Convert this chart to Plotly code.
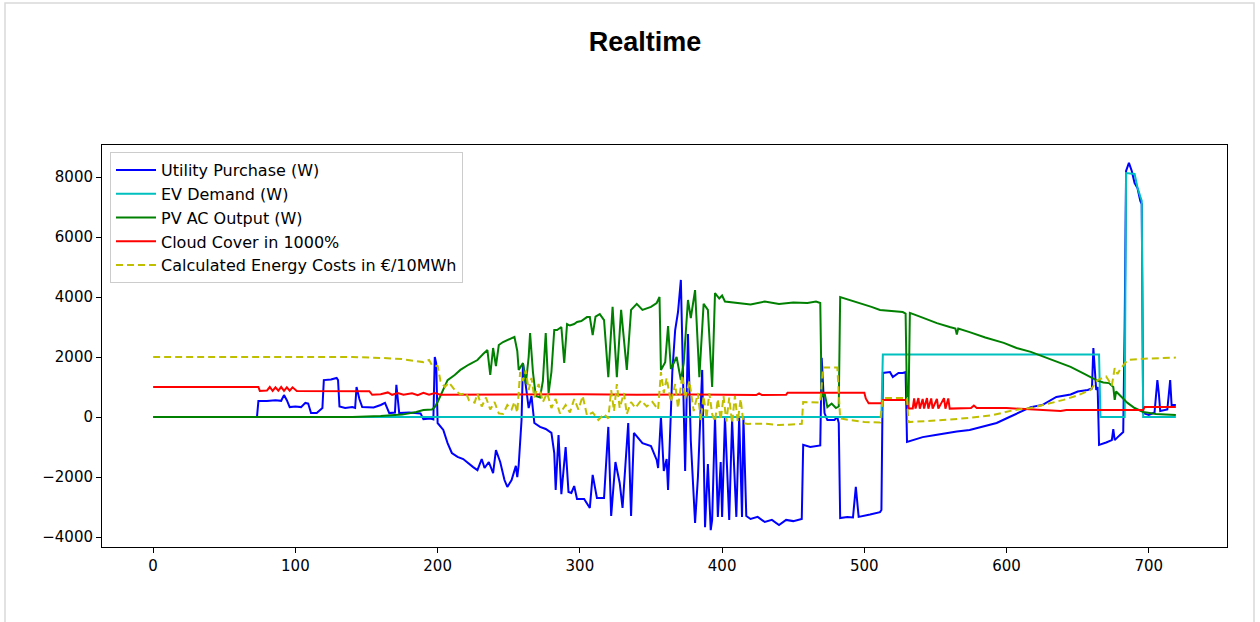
import plotly.graph_objects as go

# ---------------- data ----------------
util_x = [0, 73, 74, 80, 86, 90, 92, 94, 96, 100, 104, 107, 109, 111, 115, 117, 119, 120, 125, 129, 130, 131, 135, 140, 142, 143, 145, 147, 155, 160, 163, 166, 170, 171, 173, 180, 188, 190, 195, 197, 198, 199,
          200, 204, 207, 210, 214, 218, 221, 225, 228, 231, 233, 236, 239, 241, 244, 247, 249, 252, 255, 256, 257, 259, 260, 262, 264, 266, 268, 272, 276, 280, 282, 283, 285, 287, 290, 292, 294, 296, 298,
          303, 307, 309, 312, 317, 320, 322, 325, 328, 330, 334, 336, 338, 341, 344, 350, 354, 355, 357, 359, 361, 362, 365, 367, 369, 371, 374, 376, 378, 381, 383, 386, 388, 390, 392, 393, 395, 397, 399,
          400, 402, 405, 407, 410, 412, 414, 415, 417, 420, 425, 430, 435, 440, 445, 450, 456, 457, 462, 465, 469, 470, 472, 474, 479, 481, 482, 483, 488, 492, 494, 496,
          500, 504, 511, 512, 513, 518, 520, 524, 527, 529, 530, 541, 550, 558, 565, 574, 585, 593,
          602, 612, 617, 625, 635, 645, 650, 657, 660, 661, 662, 663, 664, 665, 670, 674, 675, 676, 679, 682, 683, 684, 686, 688, 690, 692, 694, 695, 696,
          700, 704, 705, 706, 707, 708, 713, 714, 715, 716, 719]
util_y = [0, 0, 530, 530, 560, 540, 730, 560, 330, 350, 330, 470, 450, 130, 130, 200, 300, 1230, 1250, 1300, 1230, 350, 300, 330, 300, 1000, 600, 330, 320, 400, 470, 130, 150, 1070, 130, 150, 120, -70, -50, -80, 2000, 1800,
          -200, -430, -870, -1200, -1330, -1400, -1530, -1670, -1770, -1400, -1700, -1500, -1870, -1100, -1500, -2100, -2330, -2100, -1630, -2000, -1600, -100, 1800, 1000, 300, 700, -200, -330, -400, -530, -1200, -2430, -600, -2570, -1000, -2500, -2530, -2300, -2730,
          -2730, -3030, -1930, -2700, -2700, -330, -3300, -1500, -2200, -3030, -200, -3300, -530, -700, -870, -970, -1430, -1700, 0, -1800, -1400, -2430, 1500, 2900, 3500, 4570, -1800, 2770, -800, -3530, -2000, 1570, -3670, -1570, -3770, -3430, 0, -3330, -1500,
          -3330, 0, -3430, -100, -3330, 0, -3330, 0, -3300, -3400, -3330, -3500, -3430, -3600, -3430, -3470, -3400, -930, -1000, -980, -950, 1970, 130, -100, -100, 0, -200, -3370, -3330, -3350, -2330, -3330,
          -3300, -3250, -3170, -3100, 1470, 1500, 1330, 1470, 1470, 1500, -830, -670, -600, -530, -480, -430, -300, -200,
          0, 230, 330, 400, 670, 750, 850, 900, 950, 2300, 1500, 900, 1000, -930, -850, -770, -400, -770, -630, -500, 3000, 8200, 8470, 8200, 7800, 7630, 7200, 7100, 130,
          70, 150, 700, 1230, 800, 200, 250, 800, 1230, 400, 400]

ev_x = [0, 512, 513, 665, 666, 683, 684, 690, 692, 695, 696, 719]
ev_y = [0, 0, 2080, 2080, 0, 0, 8130, 8100, 7650, 7200, 0, 0]

pv_x = [0, 140, 160, 175, 185, 190, 196, 198, 200, 204, 207, 212, 216, 222, 228, 232, 235, 237, 239, 241, 243, 246, 249, 252, 254, 256, 257, 260, 262, 264, 265, 267, 269, 272, 274, 276, 278, 280, 282, 284, 287, 289, 291, 293, 296, 298,
        301, 305, 307, 309, 311, 314, 317, 320, 323, 326, 329, 333, 336, 340, 344, 350, 354, 356, 357, 360, 362, 364, 368, 371, 373, 376, 378, 381, 384, 387, 390, 393, 395, 398,
        400, 402, 406, 410, 420, 430, 440, 450, 460, 466, 469, 470, 472, 474, 477, 480, 482, 483, 490, 495, 499,
        505, 511, 520, 527, 529, 530, 531, 532, 540, 551, 560, 564, 565, 566, 574, 585, 598,
        607, 617, 630, 645, 655, 663, 668, 672, 675, 676, 677, 680, 685, 690, 696, 705, 719]
pv_y = [0, 0, 30, 80, 170, 230, 250, 330, 500, 900, 1230, 1400, 1570, 1750, 1900, 2100, 2230, 1400, 2300, 1700, 2400, 2500, 2570, 2650, 2670, 2200, 1570, 1800, 1100, 2000, 2800, 1500, 700, 650, 1200, 2800, 800, 1500, 2900, 2900, 3000, 1800, 3100, 3050, 3100, 3170,
        3200, 3330, 3330, 2730, 3350, 3430, 3230, 1330, 3670, 1330, 3570, 1570, 3570, 3770, 3570, 3670, 3800, 4000, 1570, 1830, 3030, 1600, 2000, 1230, 1800, 3900, 3300, 4230, 1330, 3770, 3570, 1000, 4130, 3950,
        4050, 3850, 3830, 3800, 3750, 3850, 3770, 3820, 3800, 3850, 3800, 670, 800, 330, 450, 300, 350, 4000, 3900, 3820, 3770,
        3670, 3570, 3530, 3500, 3450, 470, 300, 3470, 3330, 3130, 3000, 2950, 2750, 2950, 2830, 2650, 2470,
        2300, 2170, 1930, 1670, 1430, 1230, 1150, 1130, 1000, 570, 850, 700, 470, 300, 170, 100, 70]

cloud_x = [0, 74, 75, 80, 82, 84, 86, 88, 90, 92, 94, 96, 98, 101, 152, 154, 160, 165, 168, 172, 176, 182, 186, 190, 194, 198, 202, 230, 260, 300, 340, 380, 424, 426, 428, 445, 446,
           500, 501, 503, 512, 513, 530, 531, 534, 535, 536, 538, 539, 541, 542, 544, 545, 547, 548, 551, 552, 556, 557, 559, 560, 575, 577, 579,
           600, 615, 635, 638, 642, 696, 697, 719]
cloud_y = [1000, 1000, 870, 880, 1000, 870, 990, 880, 1000, 870, 990, 880, 990, 870, 860, 740, 760, 820, 740, 800, 740, 790, 730, 810, 740, 800, 740, 750, 740, 760, 740, 750, 730, 790, 730, 740, 810,
           810, 620, 460, 460, 570, 570, 280, 280, 620, 280, 630, 280, 600, 280, 630, 280, 620, 280, 600, 280, 630, 280, 620, 280, 300, 380, 300,
           300, 270, 230, 200, 230, 230, 330, 330]

cost_x = [0, 140, 160, 175, 190, 194, 196, 200, 202, 205, 208, 212, 216, 220, 222, 226, 228, 231, 234, 237, 240, 243, 246, 249, 252, 254, 256, 258, 260, 262, 264, 266, 268, 271, 274, 277, 280, 283, 286, 290, 293, 296, 299,
          302, 305, 309, 313, 317, 320, 322, 324, 326, 328, 331, 333, 336, 339, 343, 347, 351, 355, 357, 359, 361, 364, 367, 369, 372, 374, 377, 380, 383, 385, 387, 389, 391, 393, 395, 397, 399,
          401, 403, 405, 407, 409, 411, 413, 415, 418, 430, 440, 450, 456, 457, 469, 471, 481, 483, 490,
          500, 511, 513, 530, 531, 550, 574, 590, 605, 617, 630, 640, 650, 659, 664, 670, 674, 676, 678, 680, 685, 700, 719]
cost_y = [2000, 2000, 1970, 1930, 1830, 1900, 1730, 1700, 1200, 1000, 1150, 900, 750, 800, 560, 480, 780, 350, 650, 250, 500, 120, 100, 400, 250, 500, 150, 1500, 1200, 1550, 900, 1300, 650, 1100, 500, 800, 300, 600, 120, 400, 150, 600, 250,
          700, 50, 150, -100, 100, -50, 900, 200, 1100, 300, 800, 100, 500, 300, 550, 350, 500, 250, 1500, 800, 1300, 500, 1100, 300, 1400, 600, 1200, 200, 800, -100, 700, -50, 800, 100, -150, 600, -100,
          700, -150, 650, -200, 700, -150, 600, -200, -230, -220, -270, -230, -230, 500, 480, 1650, 1650, -50, -100,
          -170, -180, 630, 630, -170, -120, -30, 60, 230, 300, 450, 570, 720, 900, 1230, 1350, 1050, 1630, 1430, 1600, 1900, 1950, 1980]

x_ticks = [0, 100, 200, 300, 400, 500, 600, 700]
y_ticks = [-4000, -2000, 0, 2000, 4000, 6000, 8000]

# ---------------- figure ----------------
W, H = 1260, 622
PL, PR, PT, PB = 102, 1227, 145, 547   # plot-area edges in page pixels

fig = go.Figure()
LW = 2
fig.add_trace(go.Scatter(x=util_x, y=util_y, mode="lines", name="Utility Purchase (W)",
                         line=dict(color="#0000ff", width=LW)))
fig.add_trace(go.Scatter(x=ev_x, y=ev_y, mode="lines", name="EV Demand (W)",
                         line=dict(color="#00bfbf", width=LW)))
fig.add_trace(go.Scatter(x=pv_x, y=pv_y, mode="lines", name="PV AC Output (W)",
                         line=dict(color="#008000", width=LW)))
fig.add_trace(go.Scatter(x=cloud_x, y=cloud_y, mode="lines", name="Cloud Cover in 1000%",
                         line=dict(color="#ff0000", width=LW)))
fig.add_trace(go.Scatter(x=cost_x, y=cost_y, mode="lines", name="Calculated Energy Costs in €/10MWh",
                         line=dict(color="#bfbf00", width=LW, dash="7px,4px")))

tickfont = dict(family="DejaVu Sans", size=15, color="black")
fig.update_layout(
    width=W, height=H,
    margin=dict(l=PL, r=W - PR, t=PT, b=H - PB),
    paper_bgcolor="white", plot_bgcolor="white",
    title=dict(text="<b>Realtime</b>", x=645 / W, xanchor="center", xref="container",
               y=1 - 42 / H, yref="container", yanchor="middle",
               font=dict(family="Liberation Sans", size=27, color="black")),
    xaxis=dict(range=[-35.95, 754.95], tickvals=x_ticks, ticks="outside", ticklen=5, tickcolor="black",
               showline=True, linecolor="black", linewidth=1, mirror=True, showgrid=False, zeroline=False,
               tickfont=tickfont),
    yaxis=dict(range=[-4333, 9067], tickvals=y_ticks, ticks="outside", ticklen=5, tickcolor="black",
               showline=True, linecolor="black", linewidth=1, mirror=True, showgrid=False, zeroline=False,
               tickfont=tickfont),
    legend=dict(x=(110 - PL) / (PR - PL), y=(PB - 152) / (PB - PT), xanchor="left", yanchor="top",
                bgcolor="rgba(255,255,255,0.8)", bordercolor="#cccccc", borderwidth=1,
                font=dict(family="DejaVu Sans", size=16, color="black"), tracegroupgap=0,
                itemwidth=40),
    showlegend=True,
)

# light gray frame of the screenshot
fig.add_shape(type="rect", xref="paper", yref="paper",
              x0=(5 - PL) / (PR - PL), x1=(1254 - PL) / (PR - PL),
              y0=-0.3, y1=(PB - 3) / (PB - PT),
              line=dict(color="#d9d9d9", width=1.5), fillcolor="rgba(0,0,0,0)", layer="below")

fig.write_html("out.html", config={"displayModeBar": False},
               post_script="document.body.style.margin='0px';")
